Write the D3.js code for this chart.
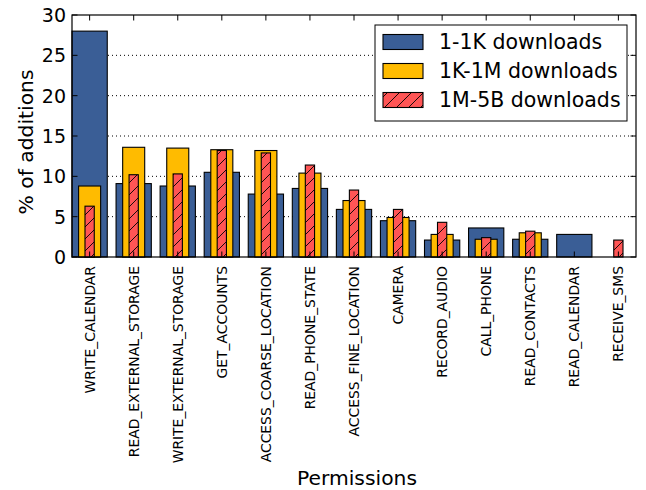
<!DOCTYPE html>
<html>
<head>
<meta charset="utf-8">
<script src="https://cdn.jsdelivr.net/npm/d3@7"></script>
<style>
  html, body { margin: 0; padding: 0; background: #fff; }
  svg { display: block; font-family: "DejaVu Sans", sans-serif; }
</style>
</head>
<body>
<svg id="chart" width="646" height="490"></svg>
<script>
// Permission categories, ordered as on the x axis
const categories = [
  "WRITE_CALENDAR", "READ_EXTERNAL_STORAGE", "WRITE_EXTERNAL_STORAGE",
  "GET_ACCOUNTS", "ACCESS_COARSE_LOCATION", "READ_PHONE_STATE",
  "ACCESS_FINE_LOCATION", "CAMERA", "RECORD_AUDIO", "CALL_PHONE",
  "READ_CONTACTS", "READ_CALENDAR", "RECEIVE_SMS"
];

// % of additions per download bucket
const low  = [28.0, 9.1, 8.8, 10.5, 7.8, 8.5, 5.9, 4.5, 2.1, 3.6, 2.2, 2.8, 0];   // 1-1K
const mid  = [8.8, 13.6, 13.5, 13.3, 13.2, 10.4, 7.0, 4.9, 2.8, 2.2, 3.0, 0, 0];   // 1K-1M
const high = [6.3, 10.2, 10.3, 13.2, 12.9, 11.4, 8.3, 5.9, 4.3, 2.4, 3.2, 0, 2.1]; // 1M-5B

const seriesNames = ["1-1K downloads", "1K-1M downloads", "1M-5B downloads"];
const yTicks = [0, 5, 10, 15, 20, 25, 30];
const gridTicks = [5, 10, 15, 20, 25];

const BLUE = "#3A5E96", YELLOW = "#FFBB00", RED = "#FF5555";

const svg = d3.select("#chart");
const plotL = 72, plotR = 636, plotT = 15, plotB = 257;

// hatch for the third series
const defs = svg.append("defs");
const pat = defs.append("pattern")
  .attr("id", "hatch").attr("patternUnits", "userSpaceOnUse")
  .attr("width", 12).attr("height", 12);
pat.append("rect").attr("width", 12).attr("height", 12).attr("fill", RED);
pat.append("path")
  .attr("d", "M0,12 L12,0 M-3,3 L3,-3 M9,15 L15,9")
  .attr("stroke", "#000").attr("stroke-width", 0.9).attr("fill", "none");

const x = d3.scaleBand().domain(categories).range([plotL, plotR])
  .paddingInner(0.2).paddingOuter(0);
const y = d3.scaleLinear().domain([0, 30]).range([plotB, plotT]);
const step = x.step();
const cx = c => x(c) + x.bandwidth() / 2;

// dotted horizontal grid behind bars
svg.append("g").selectAll("line").data(gridTicks).join("line")
  .attr("x1", plotL).attr("x2", plotR)
  .attr("y1", d => y(d)).attr("y2", d => y(d))
  .attr("stroke", "#000").attr("stroke-width", 1)
  .attr("stroke-dasharray", "1,3");

function drawBars(values, widthFrac, fill) {
  svg.append("g").selectAll("rect")
    .data(categories.map((c, i) => ({ c, v: values[i] })).filter(d => d.v > 0))
    .join("rect")
    .attr("x", d => cx(d.c) - step * widthFrac / 2)
    .attr("width", step * widthFrac)
    .attr("y", d => y(d.v))
    .attr("height", d => y(0) - y(d.v))
    .attr("fill", fill)
    .attr("stroke", "#000").attr("stroke-width", 1.1);
}
drawBars(low, 0.8, BLUE);
drawBars(mid, 0.5, YELLOW);
drawBars(high, 0.21, "url(#hatch)");

// axes: ticks pointing inward on all four sides
const tickLen = 5.5;
const axG = svg.append("g").attr("stroke", "#000").attr("stroke-width", 1);
categories.forEach(c => {
  axG.append("line").attr("x1", cx(c)).attr("x2", cx(c)).attr("y1", plotT).attr("y2", plotT + tickLen);
  axG.append("line").attr("x1", cx(c)).attr("x2", cx(c)).attr("y1", plotB).attr("y2", plotB - tickLen);
});
yTicks.forEach(t => {
  axG.append("line").attr("x1", plotL).attr("x2", plotL + tickLen).attr("y1", y(t)).attr("y2", y(t));
  axG.append("line").attr("x1", plotR).attr("x2", plotR - tickLen).attr("y1", y(t)).attr("y2", y(t));
});
svg.append("rect").attr("x", plotL).attr("y", plotT)
  .attr("width", plotR - plotL).attr("height", plotB - plotT)
  .attr("fill", "none").attr("stroke", "#000").attr("stroke-width", 1.2);

// y tick labels
svg.append("g").selectAll("text").data(yTicks).join("text")
  .attr("x", plotL - 6).attr("y", d => y(d)).attr("dy", "0.36em")
  .attr("text-anchor", "end").attr("font-size", 19).attr("fill", "#000")
  .text(d => d);

// category labels, vertical
svg.append("g").selectAll("text").data(categories).join("text")
  .attr("transform", d => `translate(${cx(d)},${plotB + 9}) rotate(-90)`)
  .attr("dy", "0.36em").attr("text-anchor", "end")
  .attr("font-size", 13.9).attr("fill", "#000")
  .text(d => d);

// axis titles
svg.append("text").attr("x", 357).attr("y", 485)
  .attr("text-anchor", "middle").attr("font-size", 20.3).text("Permissions");
svg.append("text").attr("transform", "translate(33,142) rotate(-90)")
  .attr("text-anchor", "middle").attr("font-size", 20.3).text("% of additions");

// legend
const lg = svg.append("g");
lg.append("rect").attr("x", 375).attr("y", 25).attr("width", 252).attr("height", 96)
  .attr("fill", "#fff").attr("stroke", "#000").attr("stroke-width", 1);
const fills = [BLUE, YELLOW, "url(#hatch)"];
seriesNames.forEach((name, i) => {
  const cy = 42 + i * 29;
  lg.append("rect").attr("x", 383).attr("y", cy - 7.5).attr("width", 40).attr("height", 15)
    .attr("fill", fills[i]).attr("stroke", "#000").attr("stroke-width", 1.1);
  lg.append("text").attr("x", 439).attr("y", cy + 7).attr("font-size", 20.5)
    .attr("fill", "#000").text(name);
});
</script>
</body>
</html>
